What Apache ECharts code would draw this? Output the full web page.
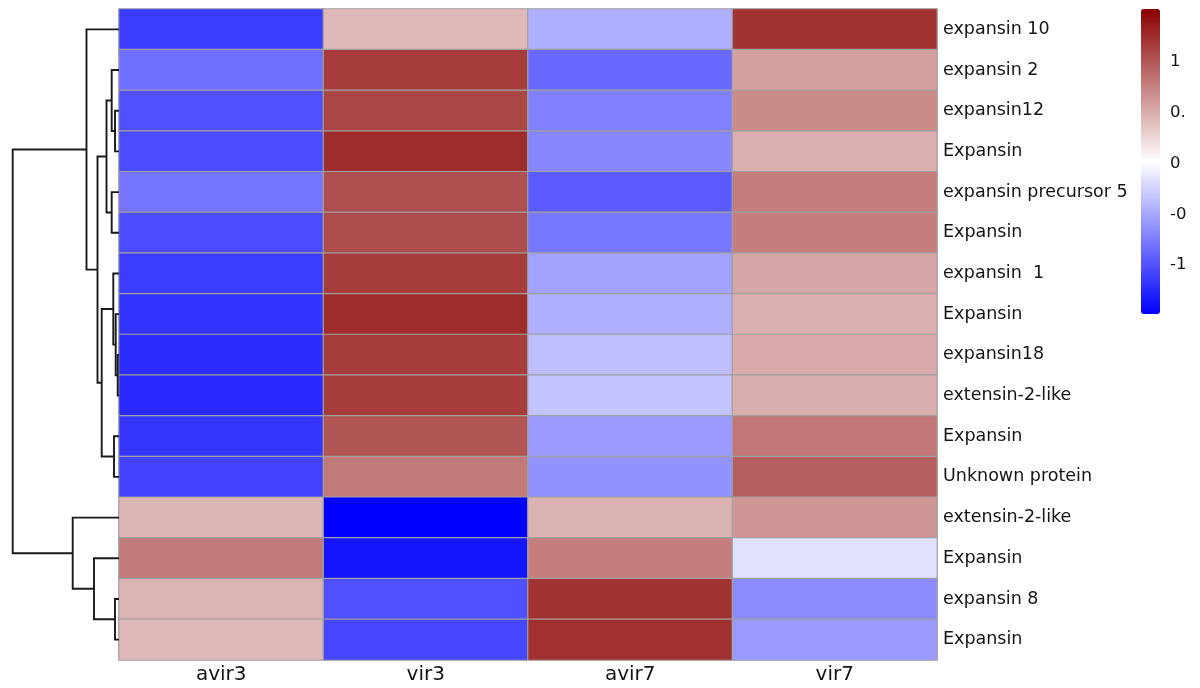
<!DOCTYPE html>
<html>
<head>
<meta charset="utf-8">
<script src="https://cdn.jsdelivr.net/npm/echarts@6/dist/echarts.min.js"></script>
<style>
  html, body { margin: 0; padding: 0; background: #ffffff; }
  #chart { width: 1200px; height: 688px; }
</style>
</head>
<body>
<div id="chart"></div>
<script>
// Samples (columns) and genes (rows, top to bottom in clustered order)
const samples = ['avir3', 'vir3', 'avir7', 'vir7'];
const genes = [
  'expansin 10', 'expansin 2', 'expansin12', 'Expansin', 'expansin precursor 5',
  'Expansin', 'expansin  1', 'Expansin', 'expansin18', 'extensin-2-like',
  'Expansin', 'Unknown protein', 'extensin-2-like', 'Expansin', 'expansin 8', 'Expansin'
];

// Row-scaled expression (z-score) per sample, one value per gene row
const avir3 = [-1.15, -0.85, -1.03, -1.06, -0.82, -1.06, -1.15, -1.20, -1.24, -1.26, -1.18, -1.12, 0.44, 0.79, 0.44, 0.41];
const vir3  = [0.41, 1.15, 1.09, 1.24, 1.03, 1.05, 1.15, 1.24, 1.15, 1.15, 1.00, 0.79, -1.50, -1.38, -1.03, -1.09];
const avir7 = [-0.47, -0.88, -0.74, -0.71, -0.97, -0.80, -0.55, -0.47, -0.38, -0.35, -0.59, -0.65, 0.45, 0.76, 1.20, 1.22];
const vir7  = [1.20, 0.56, 0.68, 0.47, 0.76, 0.76, 0.53, 0.47, 0.50, 0.48, 0.80, 0.94, 0.62, -0.18, -0.68, -0.59];

// Row clustering: merge k joins node mergeA[k] with node mergeB[k] at mergeHeight[k].
// Leaves are 0..15 (row order); merge k creates node 16 + k.
const mergeA = [8, 7, 6, 10, 18, 2, 1, 4, 22, 24, 0, 14, 13, 12, 26];
const mergeB = [9, 16, 17, 11, 19, 3, 21, 5, 23, 20, 25, 15, 27, 28, 29];
const mergeHeight = [1.3, 3.3, 5.7, 5.0, 17.3, 4.0, 7.3, 7.3, 12.5, 21.5, 32.5, 4.0, 25.0, 46.3, 106.3];

// Colour scale
const scaleMin = -1.5;
const scaleMax = 1.5;
const legendStep = 0.5;
const palette = ['#0000ff', '#ffffff', '#8b0000'];

const columnValues = [avir3, vir3, avir7, vir7];
const heatData = [];
columnValues.forEach((col, c) => {
  col.forEach((v, r) => heatData.push([c, r, v]));
});

// Dendrogram layout: each merge becomes a bracket [hA, yA, h, yB, hB]
const nodeY = genes.map((_, i) => i + 0.5);
const nodeH = genes.map(() => 0);
const brackets = mergeA.map((a, k) => {
  const b = mergeB[k];
  const h = mergeHeight[k];
  const item = [nodeH[a], nodeY[a], h, nodeY[b], nodeH[b]];
  nodeY.push((nodeY[a] + nodeY[b]) / 2);
  nodeH.push(h);
  return item;
});
const treeTop = 107;

const font = 'DejaVu Sans';
const textColor = '#141414';

const chart = echarts.init(document.getElementById('chart'), null, { renderer: 'canvas' });
chart.setOption({
  animation: false,
  backgroundColor: '#ffffff',
  grid: [
    { left: 119, top: 9, width: 818, height: 651, outerBoundsMode: 'none' },
    { left: 12, top: 9, width: 107, height: 651, outerBoundsMode: 'none' },
    { left: 1141, top: 11, width: 19, height: 305, outerBoundsMode: 'none' }
  ],
  xAxis: [
    {
      type: 'category', gridIndex: 0, data: samples, position: 'bottom',
      axisLine: { show: false }, axisTick: { show: false }, splitLine: { show: false },
      axisLabel: { fontFamily: font, fontSize: 20, color: textColor, margin: 5 }
    },
    { type: 'value', gridIndex: 1, min: 0, max: treeTop, inverse: true, show: false },
    { type: 'value', gridIndex: 2, min: 0, max: 1, show: false }
  ],
  yAxis: [
    {
      type: 'category', gridIndex: 0, data: genes, inverse: true, position: 'right',
      axisLine: { show: false }, axisTick: { show: false }, splitLine: { show: false },
      axisLabel: { fontFamily: font, fontSize: 17.5, color: textColor, margin: 6 }
    },
    { type: 'value', gridIndex: 1, min: 0, max: genes.length, inverse: true, show: false },
    {
      type: 'value', gridIndex: 2, min: scaleMin, max: scaleMax, interval: legendStep, position: 'right',
      axisLine: { show: false }, axisTick: { show: false }, splitLine: { show: false },
      axisLabel: {
        fontFamily: font, fontSize: 16.5, color: textColor, margin: 10,
        showMinLabel: false, showMaxLabel: false
      }
    }
  ],
  visualMap: {
    type: 'continuous',
    seriesIndex: 0,
    min: scaleMin,
    max: scaleMax,
    calculable: false,
    hoverLink: false,
    left: 1141,
    top: 9,
    padding: 0,
    itemWidth: 19,
    itemHeight: 305,
    inRange: { color: palette }
  },
  graphic: [
    // right margin of the page, trimming the legend labels
    { type: 'rect', left: 1186, top: 0, z: 100, shape: { width: 14, height: 688 }, style: { fill: '#ffffff' } }
  ],
  series: [
    {
      type: 'heatmap',
      xAxisIndex: 0,
      yAxisIndex: 0,
      data: heatData,
      itemStyle: { borderColor: '#a0a0a0', borderWidth: 1.2 },
      emphasis: { disabled: true }
    },
    {
      type: 'custom',
      xAxisIndex: 1,
      yAxisIndex: 1,
      data: brackets,
      encode: { x: [0, 2, 4], y: [1, 3] },
      silent: true,
      renderItem: function (params, api) {
        const pts = [
          [api.value(0), api.value(1)],
          [api.value(2), api.value(1)],
          [api.value(2), api.value(3)],
          [api.value(4), api.value(3)]
        ].map(p => api.coord(p));
        return {
          type: 'polyline',
          shape: { points: pts },
          style: { stroke: '#1a1a1a', lineWidth: 1.9, fill: null }
        };
      }
    }
  ]
});
</script>
</body>
</html>
